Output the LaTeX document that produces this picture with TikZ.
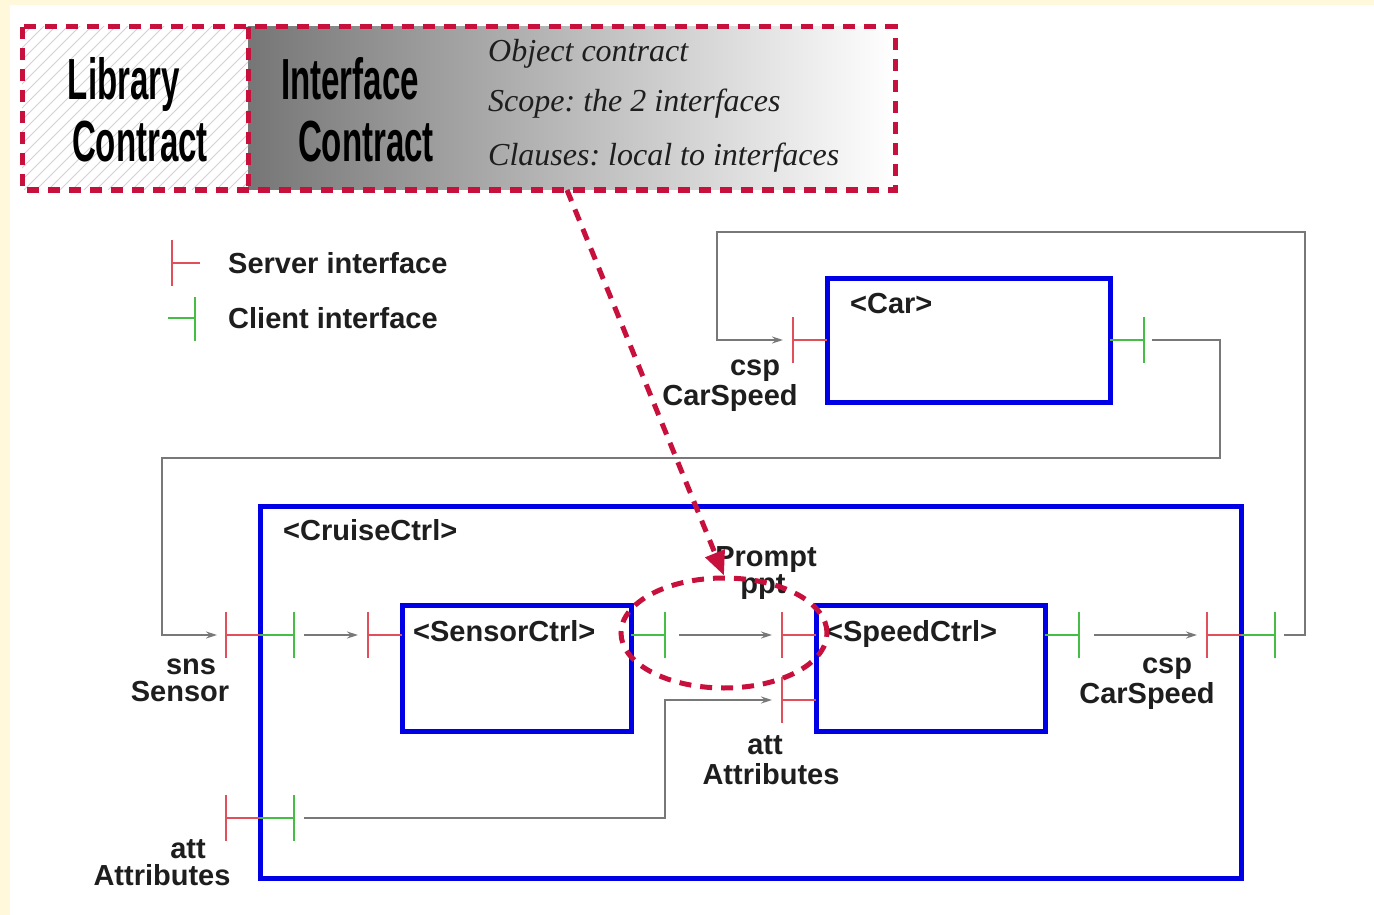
\documentclass[tikz,border=0pt]{standalone}
\usepackage{fontspec}
\setmainfont{Liberation Serif}
\setsansfont{Liberation Sans}
\usetikzlibrary{arrows.meta,shapes.geometric}
\frenchspacing

\definecolor{cream}{RGB}{255,248,218}
\definecolor{crimson}{RGB}{200,16,60}
\definecolor{cblue}{RGB}{0,0,230}
\definecolor{portred}{RGB}{225,80,90}
\definecolor{portgreen}{RGB}{70,190,70}
\definecolor{wiregray}{RGB}{120,120,120}
\definecolor{shadedark}{RGB}{118,118,118}
\definecolor{hatchcol}{RGB}{216,204,218}
\definecolor{ink}{RGB}{30,30,30}

\begin{document}
\begin{tikzpicture}[x=1pt,y=-1pt,
  comp/.style={draw=cblue, line width=5pt, rectangle, inner sep=0pt, outer sep=0pt},
  contractline/.style={draw=crimson, line width=5pt, dash pattern=on 12pt off 9pt},
  hatchline/.style={draw=hatchcol, line width=1pt},
  wire/.style={draw=wiregray, line width=1.4pt},
  flow/.style={wire, -{Stealth[length=11pt,width=7pt]}},
  lbl/.style={font=\sffamily\bfseries\fontsize{29}{31}\selectfont, inner sep=0pt, text=ink},
  bigsans/.style={font=\sffamily\bfseries\fontsize{58}{60}\selectfont, inner sep=0pt, text=black},
  ital/.style={font=\itshape\fontsize{32}{34}\selectfont, inner sep=0pt, text=ink},
  srvline/.style={draw=portred, line width=2pt},
  cliline/.style={draw=portgreen, line width=2pt},
  srv/.pic={\draw[srvline] (0,0) -- (-34,0) (-34,-23) -- (-34,23); \coordinate (-bar) at (-34,0);},
  cli/.pic={\draw[cliline] (0,0) -- (34,0) (34,-23) -- (34,23); \coordinate (-bar) at (34,0);},
]
% page and its cream edge
\useasboundingbox (0,0) rectangle (1374,915);
\fill[white] (0,0) rectangle (1374,915);
\fill[cream] (0,0) rectangle (10,915);
\fill[cream] (0,0) rectangle (1374,5);

% ---- contract banner ----
\node[minimum width=873, minimum height=163, inner sep=0pt, outer sep=0pt] (contract) at (458.5,108.5) {};
\coordinate (div) at (248,0);
\shade[left color=shadedark, right color=white] (div |- contract.north) rectangle (contract.south east);
\begin{scope}
  \clip (contract.north west) rectangle (div |- contract.south);
  \foreach \i in {-180,-168,...,250} \draw[hatchline] (\i,190) -- ++(180,-180);
\end{scope}
\draw[contractline] (contract.north west) rectangle (contract.south east);
\draw[contractline] (div |- contract.north) -- (div |- contract.south);

\node[bigsans, anchor=base] (libA) at (124,100) {\scalebox{0.57}[1]{Library}};
\node[bigsans, anchor=base] (libB) at (140,162) {\scalebox{0.57}[1]{Contract}};
\node[bigsans, anchor=base] (ifA) at (350,100) {\scalebox{0.57}[1]{Interface}};
\node[bigsans, anchor=base] (ifB) at (366,162) {\scalebox{0.57}[1]{Contract}};
\node[ital, anchor=base west] (obj) at (488,62) {Object contract};
\node[ital, anchor=base west] (scope) at (488,112) {Scope: the 2 interfaces};
\node[ital, anchor=base west] (clauses) at (488,165) {Clauses: local to interfaces};

% ---- legend ----
\draw[srvline] (172,240) -- (172,286) (172,263) -- (200,263);
\draw[cliline] (168,318) -- (195,318) (195,297) -- (195,341);
\node[lbl, anchor=base west] (legS) at (228,273) {Server interface};
\node[lbl, anchor=base west] (legC) at (228,328) {Client interface};

% ---- components ----
\node[comp, minimum width=283, minimum height=124] (car) at (968.5,340) {};
\node[comp, minimum width=981, minimum height=372] (cruise) at (750.5,692) {};
\node[comp, minimum width=229, minimum height=126] (sensor) at (516.5,668) {};
\node[comp, minimum width=229, minimum height=126] (speed) at (930.5,668) {};

\node[lbl, anchor=base west] (carT) at (850,313) {<Car>};
\node[lbl, anchor=base west] (cruiseT) at (283,540) {<CruiseCtrl>};
\node[lbl, anchor=base west] (sensorT) at (413,641) {<SensorCtrl>};
\node[lbl, anchor=base west] (speedT) at (826,641) {<SpeedCtrl>};

% ---- interfaces ----
\coordinate (row) at (0,635);
\coordinate (attrow) at (0,818);
\coordinate (attin) at (0,700);
\pic (carS) at (car.west) {srv};
\pic (carC) at (car.east) {cli};
\pic (snsS) at (cruise.west |- row) {srv};
\pic (snsC) at (cruise.west |- row) {cli};
\pic (attS) at (cruise.west |- attrow) {srv};
\pic (attC) at (cruise.west |- attrow) {cli};
\pic (cspS) at (cruise.east |- row) {srv};
\pic (cspC) at (cruise.east |- row) {cli};
\pic (senS) at (sensor.west |- row) {srv};
\pic (senC) at (sensor.east |- row) {cli};
\pic (pptS) at (speed.west |- row) {srv};
\pic (spdattS) at (speed.west |- attin) {srv};
\pic (spdC) at (speed.east |- row) {cli};

% ---- bindings ----
\coordinate (busR) at (1220,458);
\coordinate (busL) at (162,458);
\coordinate (loopR) at (1305,232);
\coordinate (loopL) at (717,232);
\coordinate (attbend) at (665,818);

\draw[flow] ([xshift=8pt]carC-bar) -| (busR) -- (busL) |- ([xshift=-9pt]snsS-bar);
\draw[flow] ([xshift=9pt]cspC-bar) -| (loopR) -- (loopL) |- ([xshift=-10pt]carS-bar);
\draw[flow] ([xshift=10pt]snsC-bar) -- ([xshift=-10pt]senS-bar);
\draw[flow] ([xshift=14pt]senC-bar) -- ([xshift=-10pt]pptS-bar);
\draw[flow] ([xshift=15pt]spdC-bar) -- ([xshift=-10pt]cspS-bar);
\draw[flow] ([xshift=10pt]attC-bar) -- (attbend) |- ([xshift=-10pt]spdattS-bar);

% ---- interface labels ----
\node[lbl, anchor=base] (l1a) at (755,375) {csp};
\node[lbl, anchor=base] (l1b) at (730,405) {CarSpeed};
\node[lbl, anchor=base] (l2a) at (191,674) {sns};
\node[lbl, anchor=base] (l2b) at (180,701) {Sensor};
\node[lbl, anchor=base] (l3a) at (766,566) {Prompt};
\node[lbl, anchor=base] (l3b) at (763,593) {ppt};
\node[lbl, anchor=base] (l4a) at (765,754) {att};
\node[lbl, anchor=base] (l4b) at (771,784) {Attributes};
\node[lbl, anchor=base] (l5a) at (1167,673) {csp};
\node[lbl, anchor=base] (l5b) at (1147,703) {CarSpeed};
\node[lbl, anchor=base] (l6a) at (188,858) {att};
\node[lbl, anchor=base] (l6b) at (162,885) {Attributes};

% ---- scope of the interface contract ----
\node[ellipse, contractline, minimum width=206, minimum height=110, inner sep=0pt] (ppt) at (724,633) {};
\draw[contractline, -{Triangle[length=24pt,width=20pt]}] (567,190) -- (ppt.north);
\end{tikzpicture}
\end{document}
